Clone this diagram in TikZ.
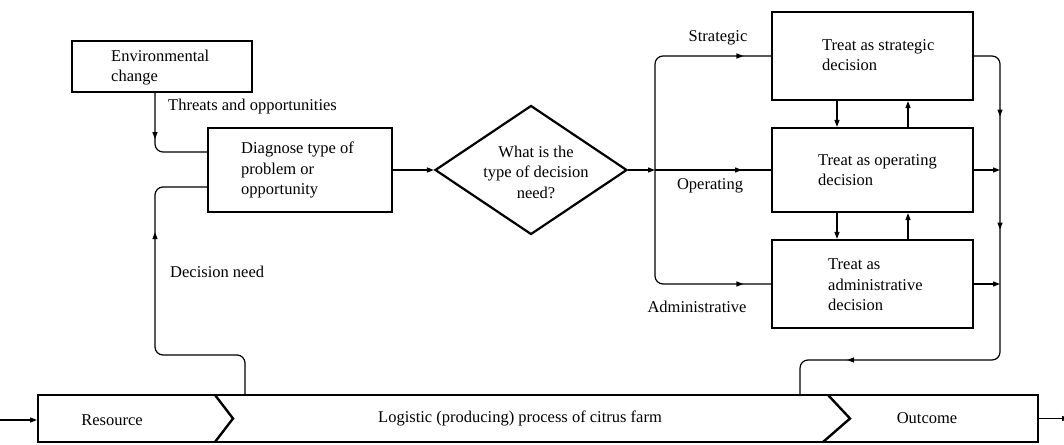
\documentclass[tikz,border=0pt]{standalone}
\usepackage{fontspec}
\setmainfont{Liberation Serif}
\usetikzlibrary{shapes.geometric,arrows.meta,decorations.markings}
\begin{document}
\begin{tikzpicture}[x=1pt,y=-1pt,
  box/.style={draw,line width=2.2pt,inner sep=0pt},
  txt/.style={align=left,inner sep=0pt,font=\fontsize{16.5}{20.5}\selectfont},
  conn/.style={line width=1.2pt,rounded corners=8pt},
  tip/.style={-{Triangle[length=7pt,width=5pt]}},
  tipat/.style={postaction={decorate,decoration={markings,mark=at position #1 with {\arrow{Triangle[length=7pt,width=5pt]}}}}},
  chev/.style={line width=2.4pt,line join=miter}]
\useasboundingbox (0,0) rectangle (1064,444);

% helper coordinates
\coordinate (c155) at (155,0);
\coordinate (c245) at (245,0);
\coordinate (c800) at (800,0);
\coordinate (c837) at (837,0);
\coordinate (c908) at (908,0);
\coordinate (c1000) at (1000,0);
\coordinate (k1) at (155,355);
\coordinate (r1) at (1000,360);
\coordinate (jn) at (655,170);
\coordinate (in) at (0,420);
\coordinate (out) at (1069,418.5);

% boxes
\node[box,minimum width=180pt,minimum height=51pt] (env) at (162,66.5) {};
\node[box,minimum width=184pt,minimum height=84pt] (diag) at (300,170) {};
\node[draw,line width=2.2pt,diamond,inner sep=0pt,minimum width=192pt,minimum height=129pt] (dia) at (531,170) {};
\node[box,minimum width=201pt,minimum height=88pt] (strat) at (872.5,56) {};
\node[box,minimum width=201pt,minimum height=84pt] (oper) at (872.5,170) {};
\node[box,minimum width=201pt,minimum height=88pt] (admin) at (872.5,284) {};
\node[draw,line width=2pt,inner sep=0pt,minimum width=1000pt,minimum height=47pt] (bar) at (538,418.5) {};

% chevrons in bar
\draw[chev] (215,395) -- (233,418.5) -- (215,442);
\draw[chev] (828,395) -- (850,418.5) -- (823,442);

% texts
\node[txt,anchor=west] (envt) at (111,67.5) {Environmental\\change};
\node[txt,anchor=west] (diagt) at (241,170) {Diagnose type of\\problem or\\opportunity};
\node[txt,align=center] (diat) at (536,172) {What is the\\type of decision\\need?};
\node[txt,anchor=west] (stratt) at (822,55) {Treat as strategic\\decision};
\node[txt,anchor=west] (opert) at (818,170) {Treat as operating\\decision};
\node[txt,anchor=west] (admint) at (828,285) {Treat as\\administrative\\decision};
\node[txt] (rest) at (112,420) {Resource};
\node[txt] (logt) at (520,418) {Logistic (producing) process of citrus farm};
\node[txt] (outt) at (927,418) {Outcome};

% labels
\node[txt,anchor=west] (threat) at (168,107) {Threats and opportunities};
\node[txt,anchor=west] (dneed) at (170,272) {Decision need};
\node[txt] (lstrat) at (718,38) {Strategic};
\node[txt] (loper) at (710,186) {Operating};
\node[txt] (ladmin) at (697,307) {Administrative};

% connectors
\draw[conn,tipat=46pt] (env.south -| c155) |- ([yshift=18pt]diag.west);
\draw[conn,tipat=245pt] (bar.north -| c245) |- (k1) |- ([yshift=-17pt]diag.west);
\draw[conn,tip] (diag.east) -- (dia.west);
\draw[conn,tip] (dia.east) -- (jn);
\draw[conn,tipat=87pt] (jn) -- (oper.west);
\draw[conn,tipat=199pt] (jn) |- (strat.west);
\draw[conn,tipat=199pt] (jn) |- (admin.west);

\draw[conn,tip] (strat.south -| c837) -- (oper.north -| c837);
\draw[conn,tip] (oper.north -| c908) -- (strat.south -| c908);
\draw[conn,tip] (oper.south -| c837) -- (admin.north -| c837);
\draw[conn,tip] (admin.north -| c908) -- (oper.south -| c908);

\draw[conn,tipat=83pt,tipat=196pt,tipat=476pt] (strat.east) -| (r1) -| (bar.north -| c800);
\draw[conn,tip] (oper.east) -- (oper.east -| c1000);
\draw[conn,tip] (admin.east) -- (admin.east -| c1000);

\draw[conn,tip] (in) -- (bar.west |- in);
\draw[conn,tip] (bar.east) -- (out);
\end{tikzpicture}
\end{document}
